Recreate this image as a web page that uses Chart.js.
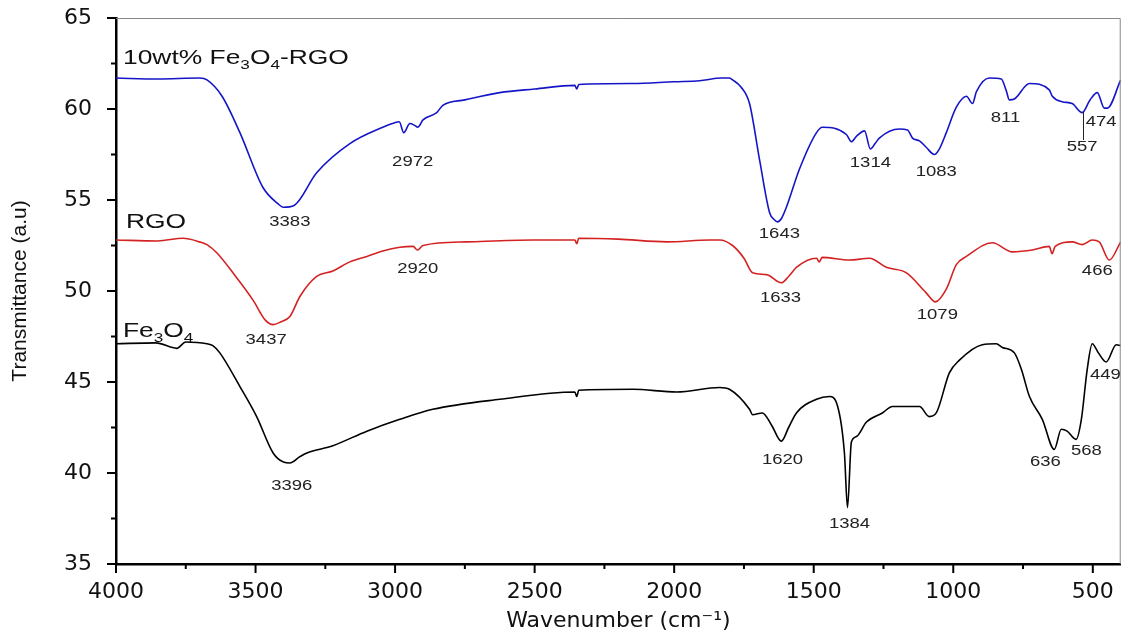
<!DOCTYPE html>
<html>
<head>
<meta charset="utf-8">
<script src="https://cdn.jsdelivr.net/npm/chart.js@4.4.1/dist/chart.umd.min.js"></script>
<style>
  html, body { margin: 0; padding: 0; background: #fff; }
  canvas { display: block; }
</style>
</head>
<body>
<canvas id="ftir" width="1129" height="640"></canvas>
<script>
// wavenumbers (cm-1) and transmittance
const wnBlue = [4000, 3850, 3700, 3674, 3620, 3556, 3474, 3420, 3400, 3362, 3281, 3162, 3044, 3001, 2985, 2969, 2947, 2930, 2919, 2900, 2851, 2829, 2750, 2625, 2500, 2356, 2349, 2342, 2149, 2000, 1909, 1830, 1802, 1791, 1760, 1730, 1694, 1658, 1640, 1630, 1615, 1598, 1551, 1490, 1469, 1383, 1365, 1347, 1318, 1297, 1280, 1265, 1193, 1164, 1146, 1121, 1097, 1068, 1050, 1025, 989, 953, 931, 917, 871, 828, 810, 799, 781, 727, 656, 645, 610, 574, 538, 510, 484, 459, 448, 400];
const tBlue = [61.7, 61.65, 61.7, 61.6, 60.7, 58.7, 55.7, 54.8, 54.6, 54.7, 56.5, 58.1, 59.0, 59.25, 59.3, 58.7, 59.2, 59.1, 59.0, 59.4, 59.8, 60.2, 60.5, 60.9, 61.1, 61.3, 61.1, 61.35, 61.4, 61.5, 61.55, 61.7, 61.7, 61.6, 61.2, 60.3, 57.2, 54.3, 53.9, 53.8, 54.0, 54.6, 56.7, 58.7, 59.0, 58.6, 58.2, 58.5, 58.8, 57.8, 58.1, 58.4, 58.9, 58.85, 58.4, 58.25, 57.9, 57.5, 57.8, 58.7, 60.1, 60.7, 60.3, 60.95, 61.7, 61.65, 61.0, 60.5, 60.55, 61.4, 61.05, 60.7, 60.4, 60.3, 59.8, 60.5, 60.9, 60.05, 60.05, 61.6];

const wnRed = [4000, 3850, 3760, 3700, 3674, 3639, 3581, 3509, 3465, 3437, 3410, 3377, 3341, 3281, 3223, 3162, 3101, 3044, 2983, 2935, 2920, 2900, 2743, 2507, 2356, 2349, 2342, 2200, 2027, 1873, 1837, 1791, 1750, 1719, 1669, 1616, 1590, 1562, 1490, 1480, 1470, 1372, 1300, 1240, 1168, 1097, 1064, 1025, 989, 953, 860, 788, 716, 656, 646, 635, 574, 538, 502, 477, 441, 400];
const tRed = [52.8, 52.75, 52.9, 52.7, 52.55, 52.1, 51.0, 49.5, 48.4, 48.15, 48.3, 48.6, 49.7, 50.8, 51.1, 51.6, 51.9, 52.2, 52.4, 52.45, 52.25, 52.5, 52.7, 52.8, 52.8, 52.6, 52.9, 52.85, 52.7, 52.8, 52.8, 52.5, 51.8, 51.0, 50.9, 50.45, 50.8, 51.3, 51.8, 51.6, 51.85, 51.7, 51.8, 51.3, 51.0, 49.9, 49.4, 50.1, 51.45, 51.9, 52.65, 52.15, 52.25, 52.45, 52.05, 52.45, 52.7, 52.55, 52.8, 52.7, 51.7, 52.7];

const wnBlack = [4000, 3857, 3782, 3750, 3674, 3653, 3628, 3556, 3496, 3437, 3400, 3377, 3341, 3316, 3223, 3101, 2983, 2865, 2625, 2356, 2349, 2342, 2149, 1991, 1837, 1802, 1730, 1719, 1684, 1650, 1616, 1590, 1562, 1490, 1444, 1415, 1390, 1379, 1365, 1347, 1311, 1254, 1218, 1121, 1086, 1061, 1014, 978, 896, 846, 824, 781, 756, 727, 681, 638, 613, 592, 560, 541, 520, 502, 480, 452, 416, 400];
const tBlack = [47.1, 47.15, 46.85, 47.2, 47.1, 47.0, 46.6, 44.75, 43.1, 41.1, 40.6, 40.55, 40.9, 41.1, 41.5, 42.3, 42.95, 43.5, 44.05, 44.45, 44.2, 44.55, 44.6, 44.45, 44.7, 44.6, 43.5, 43.2, 43.3, 42.6, 41.75, 42.5, 43.3, 44.05, 44.2, 43.7, 41.1, 38.1, 41.7, 42.0, 42.8, 43.3, 43.65, 43.65, 43.1, 43.3, 45.5, 46.2, 47.05, 47.1, 46.9, 46.6, 45.7, 44.2, 42.95, 41.3, 42.4, 42.3, 41.85, 42.95, 45.7, 47.1, 46.6, 46.1, 47.05, 47.0];

const xTickValues = [4000, 3500, 3000, 2500, 2000, 1500, 1000, 500];
const yTickValues = [35, 40, 45, 50, 55, 60, 65];

// peak labels: text, wavenumber, transmittance of the label centre
const peakText = ['3383', '2972', '1643', '1314', '1083', '811', '557', '474',
                  '3437', '2920', '1633', '1079', '466',
                  '3396', '1620', '1384', '636', '568', '449'];
const peakWn = [3377, 2937, 1623, 1297, 1061, 813, 538, 470,
                3462, 2919, 1619, 1057, 484,
                3370, 1612, 1372, 670, 523, 455];
const peakT = [53.8, 57.1, 53.1, 57.0, 56.55, 59.5, 57.9, 59.3,
               47.3, 51.2, 49.6, 48.65, 51.1,
               39.3, 40.7, 37.2, 40.6, 41.2, 45.4];

const toPoints = (xs, ys) => xs.map((x, i) => ({x: x, y: ys[i]}));

// the source figure is stretched sideways, so annotation text is widened too
const STRETCH = 1.32;

function wideText(ctx, text, x, y) {
  ctx.save();
  ctx.translate(x, y);
  ctx.scale(STRETCH, 1);
  ctx.fillText(text, 0, 0);
  ctx.restore();
}

// label with subscript parts, e.g. Fe3O4
function drawRich(ctx, parts, x, y, size) {
  let cx = x;
  parts.forEach(p => {
    const s = p.sub ? size * 0.65 : size;
    ctx.font = s + 'px "Liberation Sans"';
    wideText(ctx, p.t, cx, p.sub ? y + size * 0.27 : y);
    cx += ctx.measureText(p.t).width * STRETCH;
  });
}

const decorations = {
  id: 'decorations',
  afterDraw(chart) {
    const ctx = chart.ctx;
    const xs = chart.scales.x, ys = chart.scales.y;
    const area = chart.chartArea;
    ctx.save();

    // top / right frame
    ctx.strokeStyle = '#888';
    ctx.lineWidth = 1;
    ctx.beginPath();
    ctx.moveTo(area.left, area.top + 0.5);
    ctx.lineTo(area.right - 0.5, area.top + 0.5);
    ctx.lineTo(area.right - 0.5, area.bottom);
    ctx.stroke();

    // outward ticks, major and minor
    ctx.strokeStyle = '#000';
    ctx.lineWidth = 2;
    ctx.beginPath();
    xTickValues.forEach((v, i) => {
      const px = xs.getPixelForValue(v);
      ctx.moveTo(px, area.bottom);
      ctx.lineTo(px, area.bottom + 9);
      if (i > 0) {
        const m = xs.getPixelForValue((v + xTickValues[i - 1]) / 2);
        ctx.moveTo(m, area.bottom);
        ctx.lineTo(m, area.bottom + 5);
      }
    });
    yTickValues.forEach((v, i) => {
      const py = ys.getPixelForValue(v);
      ctx.moveTo(area.left, py);
      ctx.lineTo(area.left - 9, py);
      if (i > 0) {
        const m = ys.getPixelForValue((v + yTickValues[i - 1]) / 2);
        ctx.moveTo(area.left, m);
        ctx.lineTo(area.left - 5, m);
      }
    });
    ctx.stroke();

    // peak labels
    ctx.fillStyle = '#222';
    ctx.font = '14px "Liberation Sans"';
    ctx.textAlign = 'center';
    ctx.textBaseline = 'middle';
    peakText.forEach((t, i) => {
      wideText(ctx, t, xs.getPixelForValue(peakWn[i]), ys.getPixelForValue(peakT[i]));
    });

    // marker line under the 557 minimum
    ctx.strokeStyle = '#222';
    ctx.lineWidth = 1;
    ctx.beginPath();
    const lx = Math.round(xs.getPixelForValue(535)) + 0.5;
    ctx.moveTo(lx, ys.getPixelForValue(59.85));
    ctx.lineTo(lx, ys.getPixelForValue(58.3));
    ctx.stroke();

    // sample names
    ctx.textAlign = 'left';
    ctx.textBaseline = 'alphabetic';
    ctx.fillStyle = '#111';
    const nx = xs.getPixelForValue(3975);
    drawRich(ctx, [{t: '10wt% Fe'}, {t: '3', sub: true}, {t: 'O'}, {t: '4', sub: true}, {t: '-RGO'}],
             nx, ys.getPixelForValue(62.48), 20);
    drawRich(ctx, [{t: 'RGO'}], nx + 3, ys.getPixelForValue(53.48), 20);
    drawRich(ctx, [{t: 'Fe'}, {t: '3', sub: true}, {t: 'O'}, {t: '4', sub: true}],
             nx, ys.getPixelForValue(47.5), 20);
    ctx.restore();
  }
};

const lineStyle = {
  pointRadius: 0,
  borderWidth: 1.6,
  fill: false,
  cubicInterpolationMode: 'monotone'
};

new Chart(document.getElementById('ftir'), {
  type: 'line',
  data: {
    datasets: [
      Object.assign({label: '10wt% Fe3O4-RGO', data: toPoints(wnBlue, tBlue), borderColor: '#1515c8'}, lineStyle),
      Object.assign({label: 'RGO', data: toPoints(wnRed, tRed), borderColor: '#d42222'}, lineStyle),
      Object.assign({label: 'Fe3O4', data: toPoints(wnBlack, tBlack), borderColor: '#000'}, lineStyle)
    ]
  },
  options: {
    responsive: false,
    animation: false,
    devicePixelRatio: 1,
    layout: { padding: { top: 18, right: 7, left: 0, bottom: 0 } },
    plugins: { legend: { display: false }, tooltip: { enabled: false } },
    scales: {
      x: {
        type: 'linear',
        reverse: true,
        min: 400,
        max: 4000,
        afterBuildTicks: s => { s.ticks = xTickValues.map(v => ({value: v})); },
        afterFit: s => { s.height = 76; },
        grid: { display: false, drawTicks: false },
        border: { display: true, color: '#000', width: 2.5 },
        ticks: { color: '#111', padding: 15, maxRotation: 0, callback: v => String(v),
                 font: { family: 'DejaVu Sans', size: 22 } },
        title: { display: true, text: 'Wavenumber (cm\u207B\u00B9)', color: '#111', padding: { top: 0, bottom: 6 },
                 font: { family: 'DejaVu Sans', size: 22 } }
      },
      y: {
        min: 35,
        max: 65,
        afterBuildTicks: s => { s.ticks = yTickValues.map(v => ({value: v})); },
        afterFit: s => { s.width = 116; },
        // transparent tick marks only reserve the gap; the visible ticks come from the plugin
        grid: { display: true, drawOnChartArea: false, drawTicks: true, tickLength: 24, tickColor: 'rgba(0,0,0,0)' },
        border: { display: true, color: '#000', width: 2.5 },
        ticks: { color: '#111', padding: 0, font: { family: 'DejaVu Sans', size: 22 } },
        title: { display: true, text: 'Transmittance (a.u)', color: '#111', padding: { top: 8, bottom: 0 },
                 font: { family: 'Liberation Sans', size: 21 } }
      }
    }
  },
  plugins: [decorations]
});
</script>
</body>
</html>
